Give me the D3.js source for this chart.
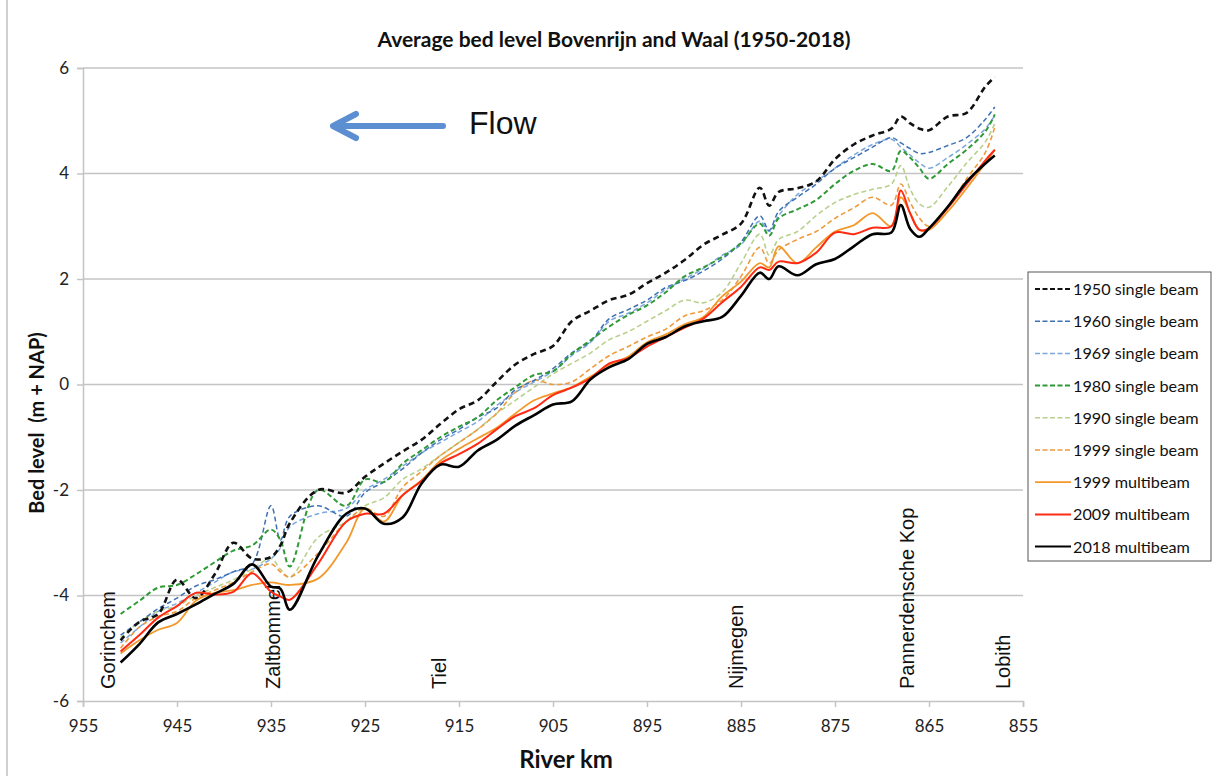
<!DOCTYPE html>
<html>
<head>
<meta charset="utf-8">
<script src="https://cdn.jsdelivr.net/npm/d3@7"></script>
<style>
  html, body { margin: 0; padding: 0; background: #fff; }
  svg { display: block; }
</style>
</head>
<body>
<svg id="chart" width="1214" height="776"></svg>
<script>
// ---------------- DATA ----------------
const riverKm = [951, 949, 947, 945, 943, 941, 939, 937, 935, 934, 933, 930, 927, 925, 923, 921, 919, 917, 915, 913, 911, 909, 907, 905, 903, 901, 899, 897, 895, 893, 891, 889, 887, 885, 883, 882, 881, 879, 877, 875, 873, 871, 869, 868, 867, 866, 865, 863, 861, 859, 858];

const sb1950 = [-4.85, -4.50, -4.35, -3.70, -4.05, -3.60, -3.00, -3.30, -3.27, -3.05, -2.63, -2.00, -2.05, -1.75, -1.50, -1.27, -1.05, -0.75, -0.47, -0.30, 0.05, 0.38, 0.58, 0.73, 1.20, 1.40, 1.60, 1.70, 1.92, 2.12, 2.36, 2.65, 2.84, 3.05, 3.73, 3.39, 3.65, 3.72, 3.85, 4.27, 4.55, 4.72, 4.85, 5.08, 4.95, 4.85, 4.82, 5.08, 5.15, 5.65, 5.83];
const sb1960 = [-4.75, -4.50, -4.25, -4.05, -3.82, -3.70, -3.55, -3.40, -2.30, -2.95, -2.50, -2.30, -2.50, -2.05, -1.85, -1.60, -1.30, -1.05, -0.85, -0.62, -0.45, -0.10, 0.08, 0.30, 0.60, 0.82, 1.25, 1.42, 1.60, 1.84, 1.97, 2.15, 2.38, 2.70, 3.20, 2.92, 3.28, 3.55, 3.80, 4.10, 4.30, 4.50, 4.68, 4.58, 4.47, 4.38, 4.40, 4.53, 4.68, 5.03, 5.26];
const sb1969 = [-4.90, -4.60, -4.30, -4.15, -3.95, -3.75, -3.55, -3.50, -3.30, -3.10, -2.70, -2.45, -2.35, -2.00, -1.80, -1.55, -1.30, -1.10, -0.90, -0.70, -0.40, -0.15, 0.05, 0.25, 0.55, 0.80, 1.20, 1.35, 1.55, 1.80, 2.00, 2.20, 2.45, 2.65, 3.10, 2.90, 3.20, 3.60, 3.85, 4.10, 4.35, 4.55, 4.65, 4.50, 4.35, 4.20, 4.10, 4.30, 4.55, 4.85, 5.10];
const sb1980 = [-4.35, -4.10, -3.85, -3.80, -3.60, -3.37, -3.15, -3.05, -2.75, -2.95, -3.45, -2.00, -2.30, -1.80, -1.85, -1.50, -1.25, -1.00, -0.80, -0.62, -0.30, -0.05, 0.18, 0.25, 0.58, 0.84, 1.10, 1.32, 1.50, 1.75, 2.05, 2.22, 2.42, 2.68, 3.05, 2.82, 3.15, 3.32, 3.50, 3.80, 4.05, 4.18, 4.05, 4.43, 4.30, 4.10, 3.90, 4.18, 4.45, 4.80, 5.12];
const sb1990 = [-4.80, -4.50, -4.30, -4.20, -4.00, -3.85, -3.70, -3.50, -3.30, -3.50, -3.65, -2.90, -2.60, -2.30, -2.15, -1.80, -1.60, -1.35, -1.10, -0.85, -0.55, -0.30, -0.05, 0.20, 0.40, 0.60, 0.85, 1.00, 1.20, 1.40, 1.60, 1.55, 1.75, 2.30, 2.85, 2.45, 2.75, 2.90, 3.20, 3.45, 3.60, 3.70, 3.80, 4.15, 3.70, 3.42, 3.36, 3.75, 4.20, 4.60, 4.95];
const sb1999 = [-5.00, -4.60, -4.40, -4.30, -4.05, -3.90, -3.75, -3.55, -3.40, -3.55, -3.65, -3.20, -2.60, -2.35, -2.50, -1.95, -1.65, -1.35, -1.10, -0.85, -0.55, -0.15, 0.08, 0.00, 0.05, 0.30, 0.55, 0.72, 0.90, 1.05, 1.30, 1.40, 1.60, 2.05, 2.60, 2.30, 2.55, 2.75, 2.90, 3.15, 3.35, 3.55, 3.40, 3.80, 3.45, 3.15, 3.00, 3.35, 3.90, 4.40, 4.88];
const mb1999 = [-5.10, -4.85, -4.65, -4.52, -4.10, -3.95, -3.90, -3.80, -3.75, -3.78, -3.80, -3.68, -3.00, -2.35, -2.60, -2.10, -1.82, -1.45, -1.22, -1.02, -0.82, -0.55, -0.30, -0.17, -0.05, 0.15, 0.38, 0.53, 0.80, 0.95, 1.14, 1.28, 1.67, 1.95, 2.30, 2.22, 2.62, 2.30, 2.60, 2.90, 3.02, 3.25, 3.00, 3.55, 3.25, 2.93, 2.93, 3.28, 3.72, 4.20, 4.45];
const mb2009 = [-5.06, -4.75, -4.42, -4.20, -3.95, -3.98, -3.93, -3.58, -3.93, -4.02, -4.08, -3.40, -2.60, -2.45, -2.45, -2.10, -1.83, -1.50, -1.32, -1.12, -0.85, -0.60, -0.45, -0.20, -0.06, 0.12, 0.40, 0.50, 0.72, 0.90, 1.08, 1.25, 1.56, 1.85, 2.22, 2.17, 2.33, 2.30, 2.50, 2.88, 2.85, 2.97, 3.00, 3.68, 3.24, 2.93, 2.96, 3.35, 3.80, 4.25, 4.45];
const mb2018 = [-5.27, -4.92, -4.51, -4.35, -4.17, -3.97, -3.78, -3.41, -3.83, -3.87, -4.27, -3.25, -2.45, -2.35, -2.64, -2.52, -1.88, -1.52, -1.56, -1.25, -1.05, -0.78, -0.58, -0.38, -0.32, 0.10, 0.33, 0.48, 0.77, 0.90, 1.10, 1.20, 1.28, 1.68, 2.12, 2.00, 2.24, 2.07, 2.28, 2.38, 2.62, 2.85, 2.88, 3.40, 2.95, 2.80, 2.96, 3.37, 3.84, 4.19, 4.34];

const seriesLabels = ["1950 single beam", "1960 single beam", "1969 single beam", "1980 single beam", "1990 single beam", "1999 single beam", "1999 multibeam", "2009 multibeam", "2018 multibeam"];
const seriesValues = [sb1950, sb1960, sb1969, sb1980, sb1990, sb1999, mb1999, mb2009, mb2018];

const yTicks = [-6, -4, -2, 0, 2, 4, 6];
const xTicks = [955, 945, 935, 925, 915, 905, 895, 885, 875, 865, 855];

const placeNames = ["Gorinchem", "Zaltbommel", "Tiel", "Nijmegen", "Pannerdensche Kop", "Lobith"];
const placeKm = [951.6, 934.0, 916.4, 884.8, 866.6, 856.4];

// ---------------- STYLE ----------------
const styles = [
  { color: "#111111", width: 2.6, dash: "6,4" },
  { color: "#3f72b5", width: 1.5, dash: "5,3" },
  { color: "#7da7dc", width: 1.5, dash: "5,3" },
  { color: "#2f9a36", width: 2.0, dash: "5,3" },
  { color: "#b9d08c", width: 1.6, dash: "5,3" },
  { color: "#ef9a3c", width: 1.6, dash: "5,3" },
  { color: "#f2992c", width: 1.8, dash: null },
  { color: "#ff2a14", width: 2.0, dash: null },
  { color: "#000000", width: 2.6, dash: null }
];

(function () {
const svg = d3.select("#chart");
const W = 1214, H = 776;
const mLeft = 83, mRight = 1023, mTop = 68, mBottom = 701;
const uiFont = "Lato, 'Open Sans', sans-serif";

const x = d3.scaleLinear().domain([955, 855]).range([mLeft, mRight]);
const y = d3.scaleLinear().domain([-6, 6]).range([mBottom, mTop]);

const gridColor = "#c4c4c4";

// outer frame line at left
svg.append("line").attr("x1", 7).attr("x2", 7).attr("y1", 0).attr("y2", H)
  .attr("stroke", "#d0d0d0").attr("stroke-width", 2);

// Gridlines
svg.append("g").selectAll("line").data(yTicks.filter(d => d !== -6)).join("line")
  .attr("x1", mLeft).attr("x2", mRight)
  .attr("y1", d => y(d)).attr("y2", d => y(d))
  .attr("stroke", gridColor).attr("stroke-width", 1.5);

// Axes
const yAxis = svg.append("g").attr("transform", `translate(${mLeft},0)`)
  .call(d3.axisLeft(y).tickValues(yTicks).tickSize(6).tickPadding(8).tickFormat(d3.format("d")));
const xAxis = svg.append("g").attr("transform", `translate(0,${mBottom})`)
  .call(d3.axisBottom(x).tickValues(xTicks).tickSize(6).tickPadding(13).tickFormat(d3.format("d")));

[yAxis, xAxis].forEach(g => {
  g.select(".domain").attr("stroke", gridColor).attr("stroke-width", 1.5);
  g.selectAll(".tick line").attr("stroke", gridColor).attr("stroke-width", 1.5);
  g.selectAll(".tick text").attr("fill", "#222").style("font-family", uiFont).style("font-size", "17px");
});
yAxis.selectAll(".tick text").text(d => d < 0 ? "-" + Math.abs(d) : d);

// Place labels (under lines)
svg.append("g").selectAll("text").data(placeNames).join("text")
  .attr("transform", (d, i) => `translate(${x(placeKm[i])},689) rotate(-90)`)
  .attr("text-anchor", "start")
  .style("font-family", "'Liberation Sans', Arial, sans-serif")
  .style("font-size", "20px")
  .attr("fill", "#111")
  .text(d => d);

// Lines
const line = d3.line()
  .x((d, i) => x(riverKm[i]))
  .y(d => y(d))
  .curve(d3.curveCatmullRom.alpha(0.5));

const order = [4, 5, 2, 1, 3, 0, 6, 7, 8];
svg.append("g").selectAll("path").data(order).join("path")
  .attr("d", k => line(seriesValues[k]))
  .attr("fill", "none")
  .attr("stroke", k => styles[k].color)
  .attr("stroke-width", k => styles[k].width)
  .attr("stroke-dasharray", k => styles[k].dash)
  .attr("stroke-linejoin", "round");

// Title
svg.append("text").attr("x", 614).attr("y", 47).attr("text-anchor", "middle")
  .style("font-family", uiFont).style("font-weight", "bold").style("font-size", "21px")
  .attr("fill", "#111")
  .text("Average bed level Bovenrijn and Waal (1950-2018)");

// Axis titles
svg.append("text").attr("transform", "translate(44,423) rotate(-90)").attr("text-anchor", "middle")
  .style("font-family", uiFont).style("font-weight", "bold").style("font-size", "20px")
  .style("white-space", "pre")
  .attr("fill", "#111")
  .text("Bed level  (m + NAP)");

svg.append("text").attr("x", 566).attr("y", 768).attr("text-anchor", "middle")
  .style("font-family", uiFont).style("font-weight", "bold").style("font-size", "24px")
  .attr("fill", "#111")
  .text("River km");

// Flow arrow
const arrowColor = "#5b8fd2";
const ag = svg.append("g").attr("stroke", arrowColor).attr("stroke-width", 6).attr("stroke-linecap", "round").attr("fill", "none");
ag.append("line").attr("x1", 443).attr("y1", 126).attr("x2", 334).attr("y2", 126);
ag.append("polyline").attr("points", "356,114 333,126 356,138").attr("stroke-linejoin", "round");

svg.append("text").attr("x", 469).attr("y", 134)
  .style("font-family", "'Liberation Sans', Arial, sans-serif").style("font-size", "32px")
  .attr("fill", "#111").text("Flow");

// Legend
const lgX = 1028, lgY = 272, lgW = 183, lgH = 289;
const legend = svg.append("g");
legend.append("rect").attr("x", lgX).attr("y", lgY).attr("width", lgW).attr("height", lgH)
  .attr("fill", "#fff").attr("stroke", "#555").attr("stroke-width", 1);
const items = legend.selectAll("g.item").data(seriesLabels).join("g").attr("class", "item")
  .attr("transform", (d, i) => `translate(${lgX}, ${lgY + 17 + i * 32.2})`);
items.append("line").attr("x1", 7).attr("x2", 43).attr("y1", 0).attr("y2", 0)
  .attr("stroke", (d, i) => styles[i].color)
  .attr("stroke-width", (d, i) => Math.min(styles[i].width, 2))
  .attr("stroke-dasharray", (d, i) => styles[i].dash ? "5,2.5" : null);
items.append("text").attr("x", 45).attr("y", 6)
  .style("font-family", uiFont).style("font-size", "16.2px")
  .attr("fill", "#111").text(d => d);
})();
</script>
</body>
</html>
